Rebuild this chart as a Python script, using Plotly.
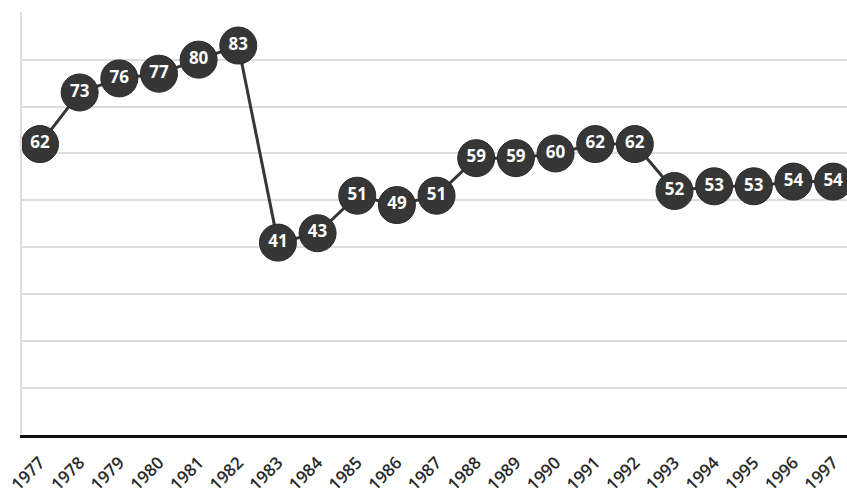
import plotly.graph_objects as go

years = [1977, 1978, 1979, 1980, 1981, 1982, 1983, 1984, 1985, 1986, 1987,
         1988, 1989, 1990, 1991, 1992, 1993, 1994, 1995, 1996, 1997]
values = [62, 73, 76, 77, 80, 83, 41, 43, 51, 49, 51,
          59, 59, 60, 62, 62, 52, 53, 53, 54, 54]
tick_labels = [str(y) for y in years]

fig = go.Figure()
fig.add_trace(go.Scatter(
    x=years, y=values,
    mode="lines+markers+text",
    line=dict(color="#363636", width=3),
    marker=dict(size=37, color="#363636", line=dict(color="#2a2a2a", width=1)),
    text=[str(v) for v in values],
    textposition="middle center",
    textfont=dict(family="Open Sans", size=17, color="white", weight="bold"),
    cliponaxis=False,
    hoverinfo="skip",
))

fig.update_layout(
    width=847, height=497,
    margin=dict(l=22, r=0, t=12, b=62),
    paper_bgcolor="white",
    plot_bgcolor="white",
    showlegend=False,
    xaxis=dict(
        range=[1976.546, 1997.35],
        tickmode="array",
        tickvals=years,
        ticktext=tick_labels,
        tickangle=-45,
        tickfont=dict(family="Open Sans", size=17, color="#2a2a2a", weight=600),
        showgrid=False,
        zeroline=False,
        showline=True,
        linecolor="#111111",
        linewidth=3,
        ticks="outside",
        ticklen=8,
        tickcolor="rgba(0,0,0,0)",
    ),
    yaxis=dict(
        range=[0, 90.15],
        tickmode="array",
        tickvals=[10, 20, 30, 40, 50, 60, 70, 80, 90],
        showticklabels=False,
        showgrid=True,
        gridcolor="#dddddd",
        gridwidth=2,
        zeroline=False,
        showline=True,
        linecolor="#dddddd",
        linewidth=2,
    ),
)

fig.write_html("out.html")
